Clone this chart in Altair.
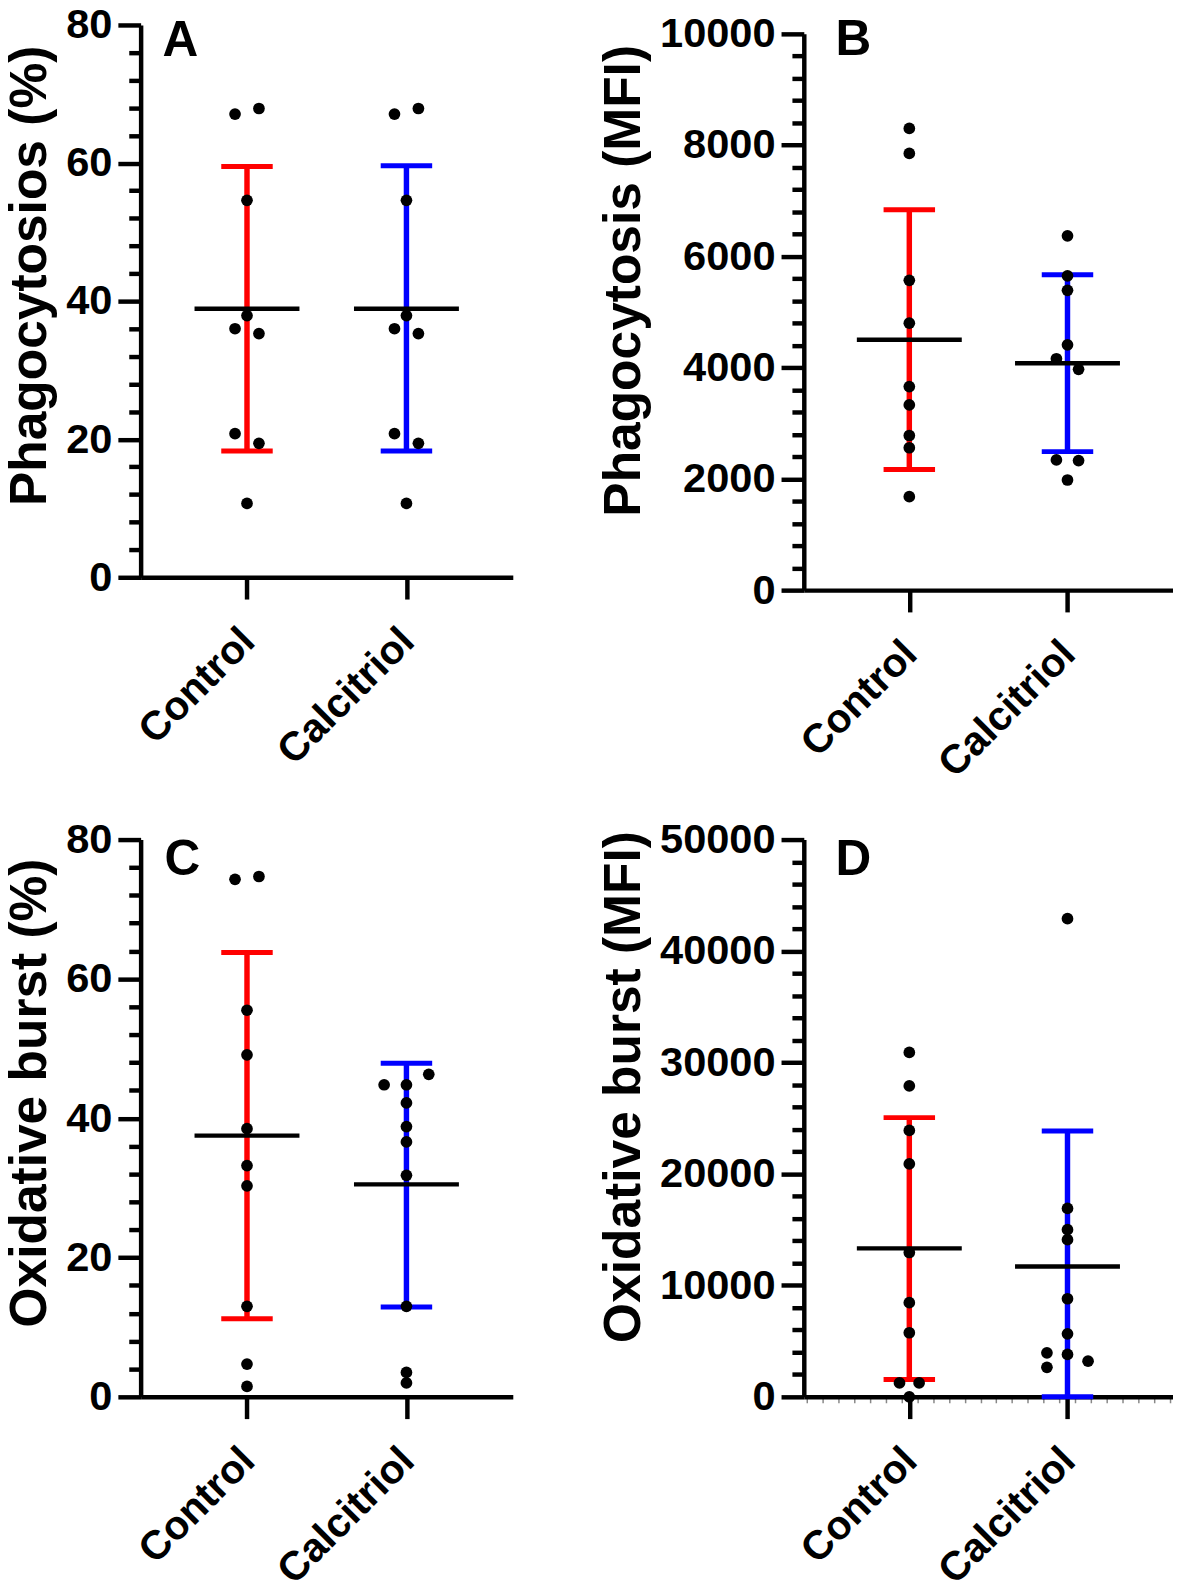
import altair as alt
import pandas as pd

FONT = "Liberation Sans"
groups = ["Control", "Calcitriol"]
group_colors = ["#FF0000", "#0000FF"]

# Panel A: Phagocytosis (%)
a_ctrl = [67.1, 67.9, 54.6, 37.9, 36.0, 35.3, 20.8, 19.4, 10.7]
a_ctrl_jit = [-0.075, 0.075, 0, 0, -0.075, 0.075, -0.075, 0.075, 0]
a_calc = [67.1, 67.9, 54.6, 37.9, 36.0, 35.3, 20.8, 19.4, 10.7]
a_calc_jit = [-0.075, 0.075, 0, 0, -0.075, 0.075, -0.075, 0.075, 0]
a_mean = [38.9, 38.9]
a_lo = [18.3, 18.3]
a_hi = [59.5, 59.6]

# Panel B: Phagocytosis (MFI)
b_ctrl = [8300, 7850, 5570, 4800, 3660, 3330, 2780, 2560, 1680]
b_ctrl_jit = [0, 0, 0, 0, 0, 0, 0, 0, 0]
b_calc = [6370, 5650, 5390, 4410, 4160, 3970, 2340, 2330, 1980]
b_calc_jit = [0, 0, 0, 0, -0.07, 0.07, -0.07, 0.07, 0]
b_mean = [4500, 4080]
b_lo = [2170, 2490]
b_hi = [6840, 5670]

# Panel C: Oxidative burst (%)
c_ctrl = [74.3, 74.7, 55.5, 49.1, 38.5, 33.2, 30.3, 13.0, 4.7, 1.5]
c_ctrl_jit = [-0.075, 0.075, 0, 0, 0, 0, 0, 0, 0, 0]
c_calc = [44.8, 46.3, 44.8, 42.2, 38.8, 36.6, 31.8, 13.0, 3.5, 2.0]
c_calc_jit = [-0.14, 0.14, 0, 0, 0, 0, 0, 0, 0, 0]
c_mean = [37.5, 30.5]
c_lo = [11.2, 12.9]
c_hi = [63.8, 47.9]

# Panel D: Oxidative burst (MFI)
d_ctrl = [30900, 27900, 23900, 20900, 12950, 8450, 5750, 1250, 1250, 0]
d_ctrl_jit = [0, 0, 0, 0, 0, 0, 0, -0.062, 0.062, 0]
d_calc = [42900, 16900, 15000, 14100, 8800, 5650, 3950, 3800, 2650, 3200]
d_calc_jit = [0, 0, 0, 0, 0, 0, -0.13, 0, -0.13, 0.13]
d_mean = [13320, 11700]
d_lo = [1560, 0]
d_hi = [25050, 23850]


def panel(letter, ytitle, ymax, major, minor, ctrl, ctrl_jit, calc, calc_jit,
          means, los, his, w, h, lx, ly, title_shift, top_gap=0, xminor=False):
    dots = pd.DataFrame({
        "group": [groups[0]] * len(ctrl) + [groups[1]] * len(calc),
        "pos": [1 + j for j in ctrl_jit] + [2 + j for j in calc_jit],
        "value": ctrl + calc,
    })
    summ = pd.DataFrame({"group": groups, "pos": [1, 2], "mean": means, "lo": los, "hi": his})

    total_h = h + top_gap
    yvals = list(range(0, ymax + 1, minor))
    ycond = f"datum.value % {major} === 0"
    yaxis = alt.Axis(
        values=yvals, title=ytitle, format="d",
        labelExpr=f"{ycond} ? datum.label : ''", labelOverlap=False, labelFlush=False,
        tickSize={"condition": {"test": ycond, "value": 23}, "value": 12},
        tickWidth=4.5, tickColor="black", domainWidth=4.5, domainColor="black",
        labelFont=FONT, labelFontSize=42, labelFontWeight="bold", labelColor="black",
        labelPadding=6, titleFont=FONT, titleFontSize=52, titleFontWeight="bold",
        titleColor="black", titlePadding=9, titleY=top_gap + h / 2 + title_shift, grid=False,
    )
    yscale = alt.Scale(domain=[0, ymax], nice=False, zero=True, range=[total_h, top_gap])

    if xminor:
        xvals = sorted(set([1, 2] + [round(0.35 + 0.1 * k, 2) for k in range(24)]))
    else:
        xvals = [1, 2]
    xcond = "datum.value === 1 || datum.value === 2"
    xaxis = alt.Axis(
        values=xvals, title=None, labelAngle=-45,
        labelExpr=f"datum.value === 1 ? '{groups[0]}' : datum.value === 2 ? '{groups[1]}' : ''",
        labelOverlap=False, labelFlush=False, labelLimit=600,
        tickSize={"condition": {"test": xcond, "value": 22}, "value": 6},
        tickWidth={"condition": {"test": xcond, "value": 4.5}, "value": 1.5},
        tickColor={"condition": {"test": xcond, "value": "black"}, "value": "#888888"},
        labelFontSize={"condition": {"test": xcond, "value": 41}, "value": 1},
        domainWidth=4.5, domainColor="black",
        labelFont=FONT, labelFontWeight="bold", labelColor="black",
        labelPadding=22, labelOffset=-13, grid=False,
    )
    xscale = alt.Scale(domain=[0.333, 2.667], nice=False, zero=False)
    x = alt.X("pos:Q", scale=xscale, axis=xaxis)
    color = alt.Color("group:N", scale=alt.Scale(domain=groups, range=group_colors), legend=None)

    bars = alt.Chart(summ).mark_rule(strokeWidth=5.5, opacity=1).encode(
        x=x, y=alt.Y("lo:Q", scale=yscale, axis=yaxis), y2="hi:Q", color=color)
    cap_lo = alt.Chart(summ).mark_tick(orient="horizontal", size=52, thickness=5, opacity=1).encode(
        x=x, y=alt.Y("lo:Q", scale=yscale, axis=yaxis), color=color)
    cap_hi = alt.Chart(summ).mark_tick(orient="horizontal", size=52, thickness=5, opacity=1).encode(
        x=x, y=alt.Y("hi:Q", scale=yscale, axis=yaxis), color=color)
    mean = alt.Chart(summ).mark_tick(orient="horizontal", size=106, thickness=4.5,
                                     color="black", opacity=1).encode(
        x=x, y=alt.Y("mean:Q", scale=yscale, axis=yaxis))
    pts = alt.Chart(dots).mark_circle(size=140, color="black", opacity=1).encode(
        x=x, y=alt.Y("value:Q", scale=yscale, axis=yaxis))
    txt = alt.Chart(pd.DataFrame({"t": [letter]})).mark_text(
        font=FONT, fontSize=50, fontWeight="bold", color="black", align="left", baseline="alphabetic"
    ).encode(text="t:N", x=alt.value(lx), y=alt.value(ly))
    return alt.layer(bars, cap_lo, cap_hi, mean, pts, txt).properties(width=w, height=total_h)


pA = panel("A", "Phagocytosios (%)", 80, 20, 4, a_ctrl, a_ctrl_jit, a_calc, a_calc_jit,
           a_mean, a_lo, a_hi, 376, 558, 22, 31, -26)
pB = panel("B", "Phagocytosis (MFI)", 10000, 2000, 400, b_ctrl, b_ctrl_jit, b_calc, b_calc_jit,
           b_mean, b_lo, b_hi, 373, 562, 32, 30, -32, top_gap=9)
pC = panel("C", "Oxidative burst (%)", 80, 20, 4, c_ctrl, c_ctrl_jit, c_calc, c_calc_jit,
           c_mean, c_lo, c_hi, 376, 563, 24, 36, -26)
pD = panel("D", "Oxidative burst (MFI)", 50000, 10000, 2000, d_ctrl, d_ctrl_jit, d_calc, d_calc_jit,
           d_mean, d_lo, d_hi, 373, 563, 32, 36, -32, xminor=True)

top = alt.hconcat(pA, pB, spacing=86)
bottom = alt.hconcat(pC, pD, spacing=86)
chart = alt.vconcat(top, bottom, spacing=34).properties(
    padding={"left": -4, "top": -12, "right": 0, "bottom": -12}
).configure_view(stroke=None)

chart.save("out.html", embed_options={"renderer": "svg", "actions": False})
